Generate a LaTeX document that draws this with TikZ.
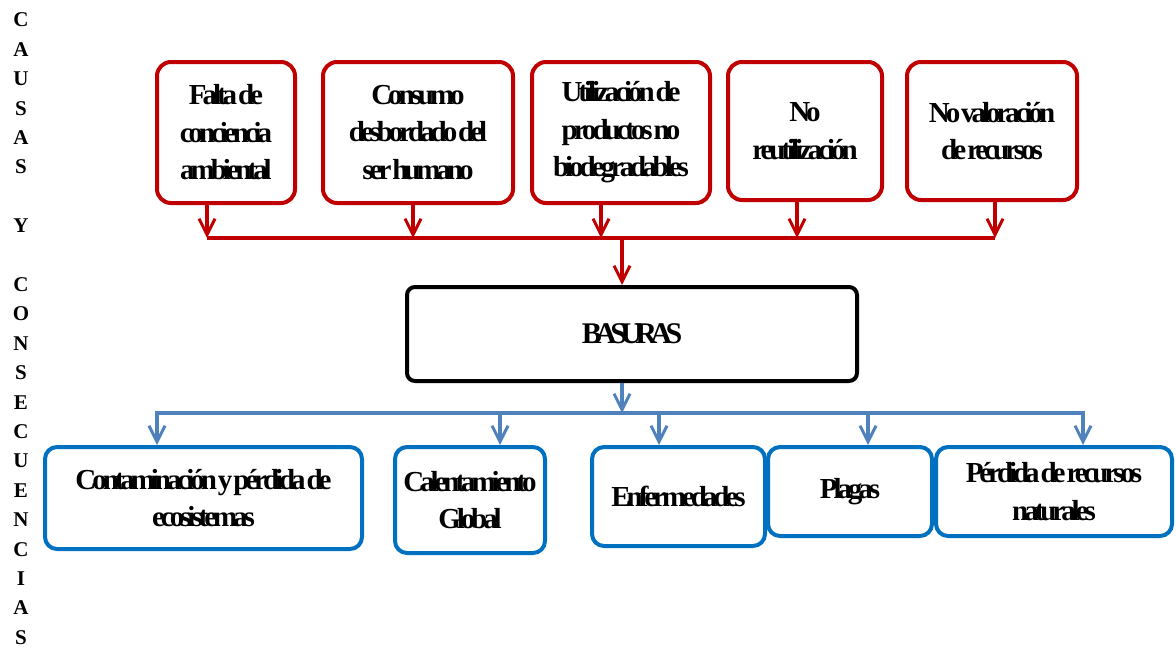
\documentclass[tikz,border=0pt]{standalone}
\usepackage{fontspec}
\setmainfont{Liberation Serif}
\newfontfamily\cond[LetterSpace=-14,WordSpace=0.3]{Liberation Serif}
\newfontfamily\condx[LetterSpace=-22]{Liberation Serif}
\usetikzlibrary{arrows.meta}
\definecolor{causered}{HTML}{C00000}
\definecolor{effblue}{HTML}{0070C0}
\definecolor{linkblue}{HTML}{4F81BD}

\begin{document}
\begin{tikzpicture}[x=1pt,y=-1pt,
  box/.style={rounded corners=14pt, line width=4pt, fill=white, inner sep=2pt,
    align=center, font=\cond\bfseries\fontsize{29}{37.5}\selectfont},
  causebox/.style={box, draw=causered, execute at begin node={\rule{0pt}{31pt}}},
  effectbox/.style={box, draw=effblue, rounded corners=12pt},
  mainbox/.style={box, draw=black, rounded corners=8pt},
  redlink/.style={draw=causered, line width=3.5pt},
  bluelink/.style={draw=linkblue, line width=3.5pt},
  tip/.style={-{Straight Barb[length=16pt,width=16pt,line width=3pt]}},
  sideletter/.style={font=\bfseries\fontsize{21}{21}\selectfont, inner sep=0pt},
]
\useasboundingbox (0,0) rectangle (1176,656);

% vertical title on the left margin
\foreach \ch [count=\i] in {C,A,U,S,A,S,,Y,,C,O,N,S,E,C,U,E,N,C,I,A,S}
  \node[sideletter] (t\i) at (21,{20+29.4*(\i-1)}) {\ch};

% causes
\node[causebox, minimum width=138pt, minimum height=141pt] (c1) at (226,132.5)
  {Falta de\\conciencia\\ambiental};
\node[causebox, minimum width=190pt, minimum height=141pt] (c2) at (418,132.5)
  {Consumo\\desbordado del\\ser humano};
\node[causebox, minimum width=178pt, minimum height=141pt] (c3) at (621,132.5)
  {Utilización de\\productos no\\biodegradables};
\node[causebox, minimum width=154pt, minimum height=138pt] (c4) at (805,131)
  {No\\reutilización};
\node[causebox, minimum width=170pt, minimum height=138pt] (c5) at (992,131)
  {No valoración\\de recursos};

% central problem
\node[mainbox, minimum width=450pt, minimum height=94pt,
      font=\condx\bfseries\fontsize{30}{36}\selectfont] (m) at (632,334) {BASURAS};

% consequences
\node[effectbox, minimum width=317pt, minimum height=102pt] (k1) at (203.5,498)
  {Contaminación y pérdida de\\ecosistemas};
\node[effectbox, minimum width=150pt, minimum height=106pt] (k2) at (470,500)
  {Calentamiento\\Global};
\node[effectbox, minimum width=173pt, minimum height=99pt] (k3) at (678.5,496.5)
  {Enfermedades};
\node[effectbox, minimum width=164pt, minimum height=89pt] (k4) at (850,491.5)
  {Plagas};
\node[effectbox, minimum width=236pt, minimum height=89pt] (k5) at (1054,491.5)
  {Pérdida de recursos\\naturales};

% points where the cause arrows meet the red bus
\coordinate (a1) at (207,238);
\coordinate (a2) at (413,238);
\coordinate (a3) at (601,238);
\coordinate (a4) at (797,238);
\coordinate (a5) at (995,238);
\coordinate (am) at (622,238);

% points where the blue bus splits towards the consequences
\coordinate (bm) at (622,413);
\coordinate (b0) at (155,413);
\coordinate (b1) at (157,413);
\coordinate (b2) at (500,413);
\coordinate (b3) at (659,413);
\coordinate (b4) at (868,413);
\coordinate (b5) at (1083,413);
\coordinate (b6) at (1085,413);

% red bus and arrows
\draw[redlink] (a1) -- (a5);
\foreach \n in {1,...,5}
  \draw[redlink, tip] (c\n.south -| a\n) -- (a\n);
\draw[redlink, tip] (am) -- (am |- m.north);

% blue bus and arrows
\draw[bluelink] (b0) -- (b6);
\draw[bluelink, tip] (m.south -| bm) -- (bm);
\foreach \n in {1,...,5}
  \draw[bluelink, tip] (b\n) -- (b\n |- k\n.north);
\end{tikzpicture}
\end{document}
